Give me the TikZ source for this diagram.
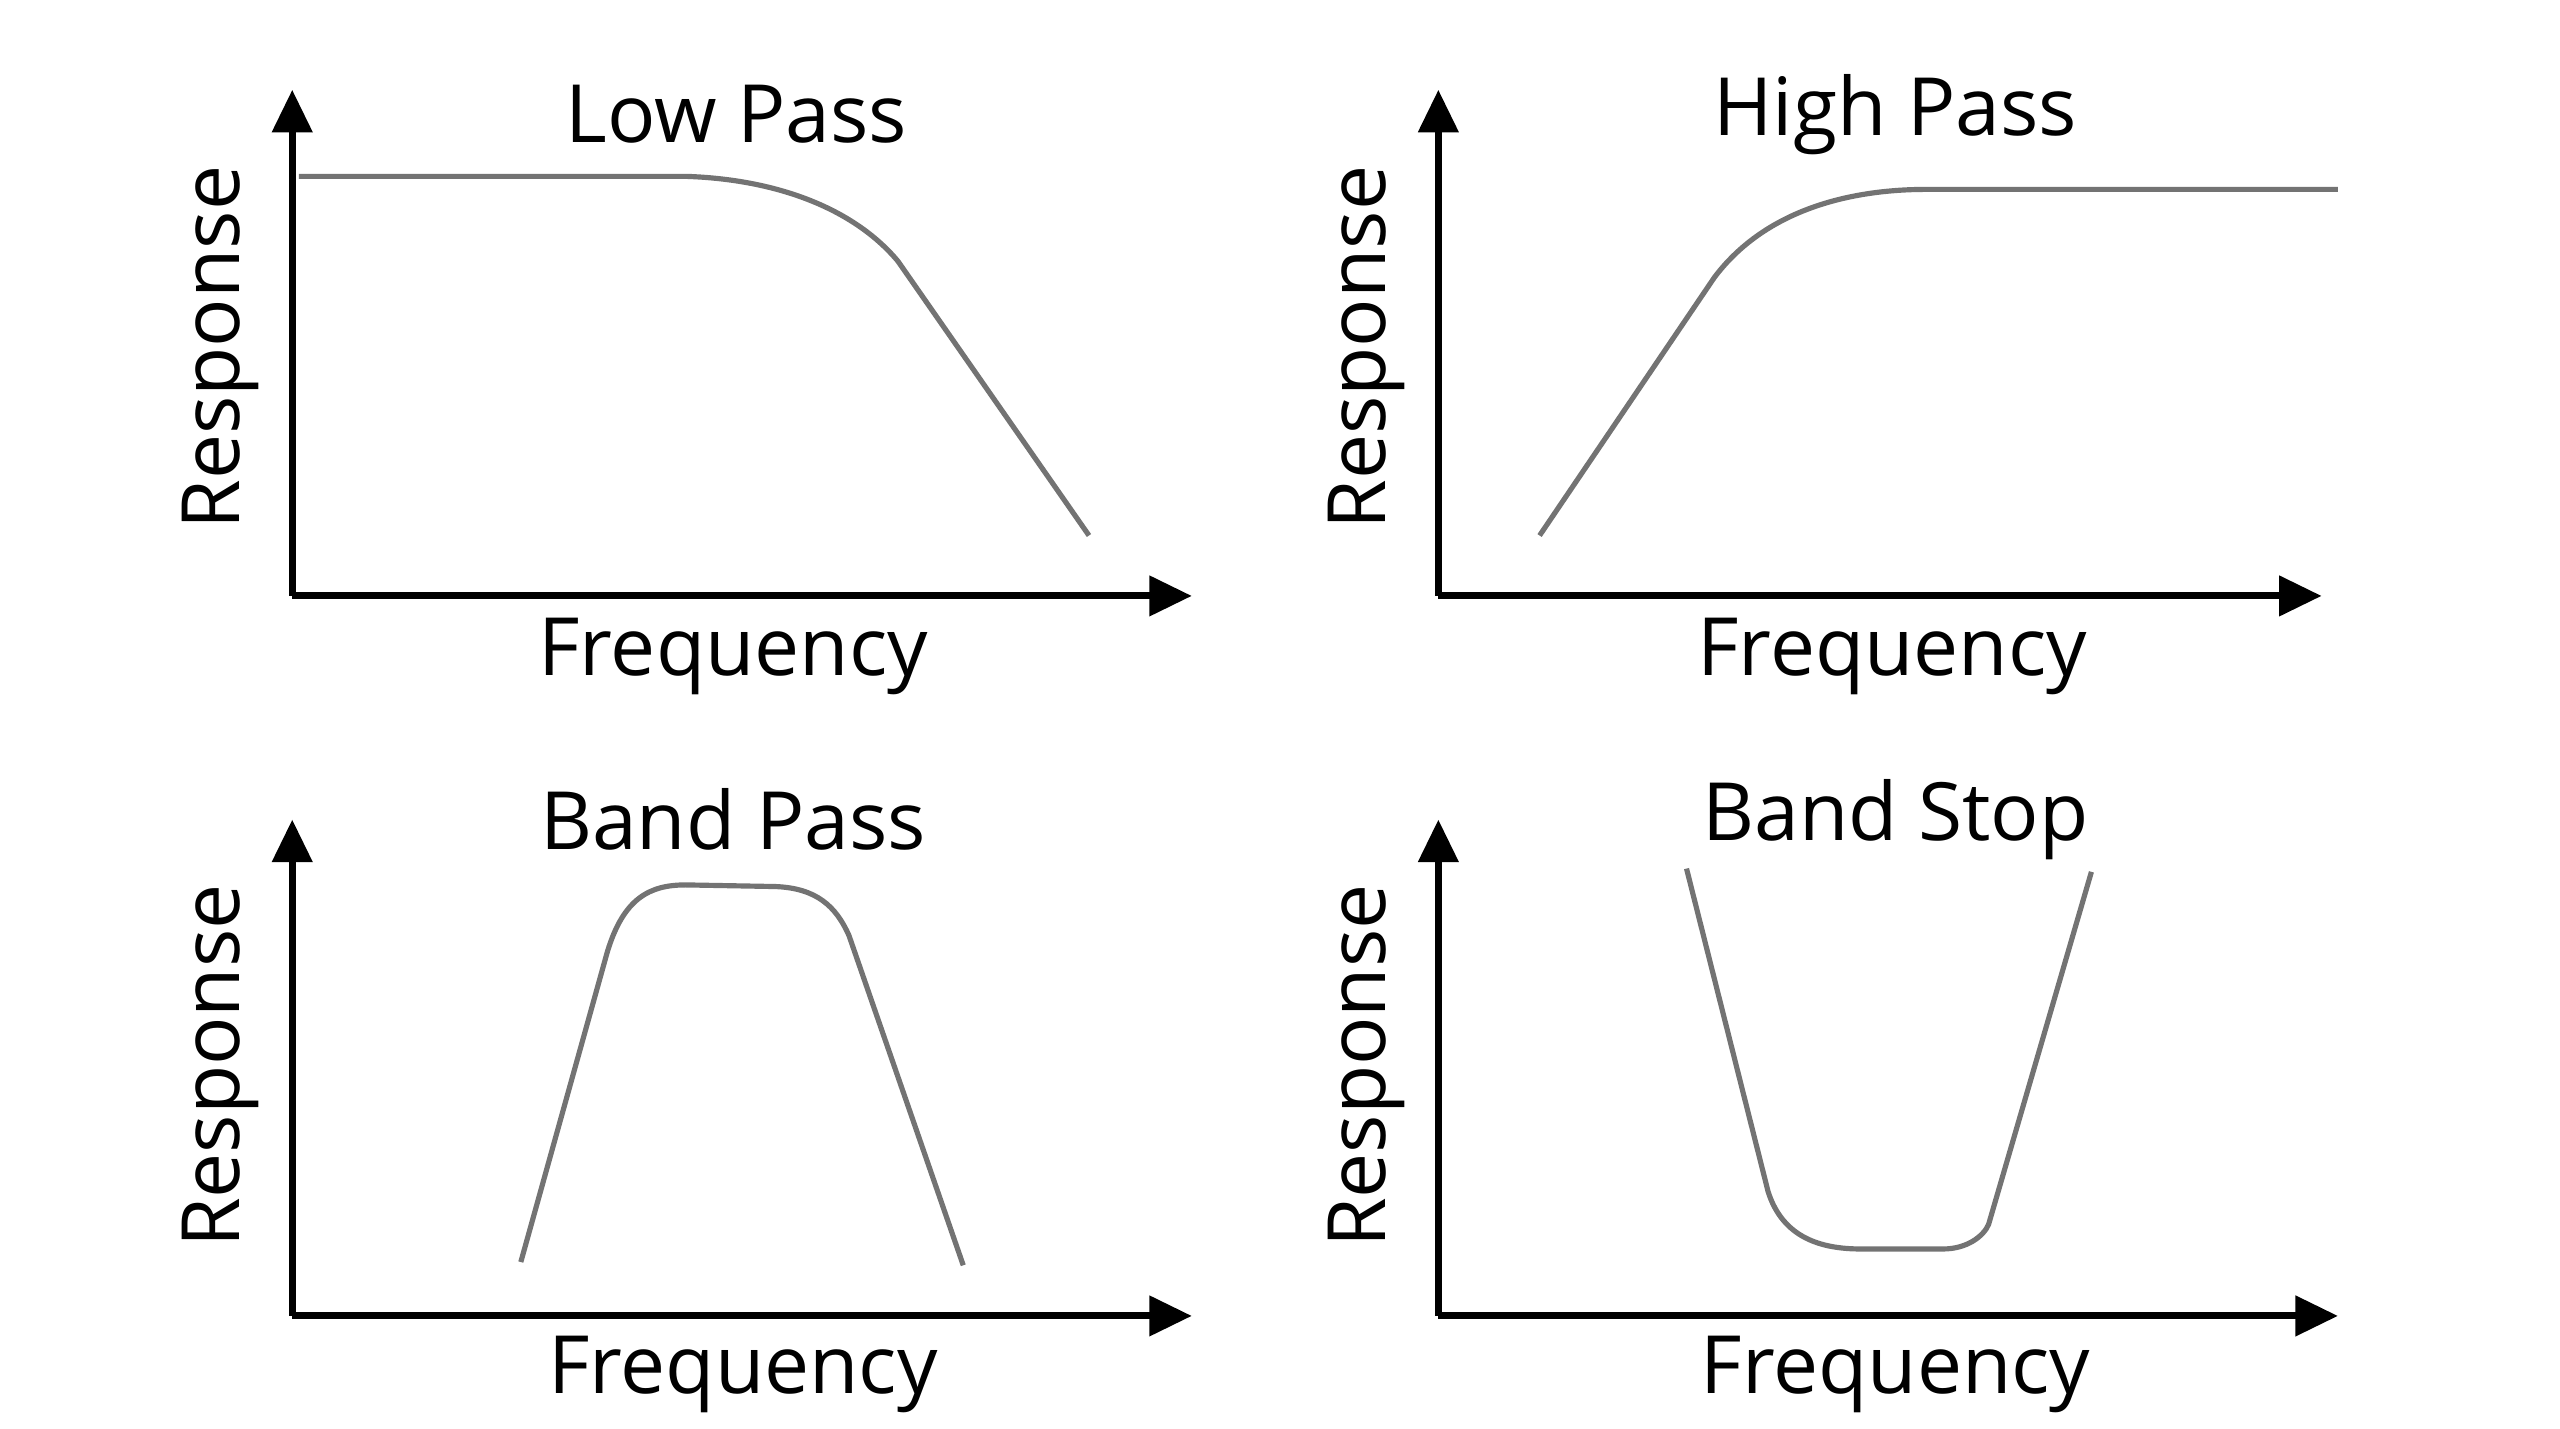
\documentclass[tikz,border=0pt]{standalone}
\usepackage{fontspec}
\setmainfont{Open Sans}
\usetikzlibrary{arrows.meta, positioning}

\begin{document}
\begin{tikzpicture}[x=0.01cm, y=-0.01cm,
    axis/.style={line width=1.2pt, -{Triangle[length=0.26cm, width=0.24cm]}},
    response/.style={line width=0.9pt, gray!90!black, line join=round},
    label/.style={font=\fontsize{14}{16}\selectfont}]
    \useasboundingbox (0,0) rectangle (1568,875);

    % Low Pass
    \coordinate (lpO) at (179,365);
    \coordinate (lpY) at (179,55);
    \coordinate (lpX) at (730,365);
    \draw[axis] (lpO) -- (lpY);
    \draw[axis] (lpO) -- (lpX);
    \draw[response] (183,108) -- (420,108) .. controls (480,110) and (525,130) .. (550,160) -- (667,328);
    \node[label] (lpTitle) at (451,70) {Low Pass};
    \node[label] (lpFreq) at (449,402) {Frequency};
    \node[label, rotate=90] (lpResp) at (135,213) {Response};

    % High Pass
    \coordinate (hpO) at (881,365);
    \coordinate (hpY) at (881,55);
    \coordinate (hpX) at (1422,365);
    \draw[axis] (hpO) -- (hpY);
    \draw[axis] (hpO) -- (hpX);
    \draw[response] (943,328) -- (1050,170) .. controls (1080,130) and (1130,116) .. (1180,116) -- (1432,116);
    \node[label] (hpTitle) at (1161,70) {High Pass};
    \node[label] (hpFreq) at (1159,402) {Frequency};
    \node[label, rotate=90] (hpResp) at (837,213) {Response};

    % Band Pass
    \coordinate (bpO) at (179,806);
    \coordinate (bpY) at (179,502);
    \coordinate (bpX) at (730,806);
    \draw[axis] (bpO) -- (bpY);
    \draw[axis] (bpO) -- (bpX);
    \draw[response] (319,773) -- (372,583) .. controls (382,550) and (398,542) .. (420,542)
        -- (475,543) .. controls (500,544) and (512,555) .. (520,573) -- (590,775);
    \node[label] (bpTitle) at (449,502) {Band Pass};
    \node[label] (bpFreq) at (455,842) {Frequency};
    \node[label, rotate=90] (bpResp) at (135,653) {Response};

    % Band Stop
    \coordinate (bsO) at (881,806);
    \coordinate (bsY) at (881,502);
    \coordinate (bsX) at (1432,806);
    \draw[axis] (bsO) -- (bsY);
    \draw[axis] (bsO) -- (bsX);
    \draw[response] (1033,532) -- (1083,730) .. controls (1092,758) and (1115,765) .. (1140,765)
        -- (1190,765) .. controls (1205,765) and (1215,757) .. (1218,750) -- (1281,534);
    \node[label] (bsTitle) at (1161,502) {Band Stop};
    \node[label] (bsFreq) at (1161,842) {Frequency};
    \node[label, rotate=90] (bsResp) at (837,653) {Response};
\end{tikzpicture}
\end{document}
